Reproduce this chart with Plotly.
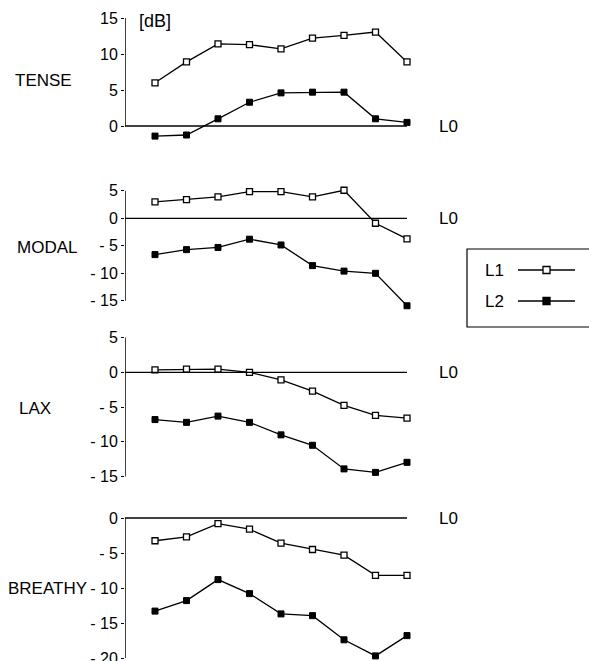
import plotly.graph_objects as go

# ---------------- data ----------------
x_idx = [1, 2, 3, 4, 5, 6, 7, 8, 9]
panel_names = ["TENSE", "MODAL", "LAX", "BREATHY"]

tense_l1 = [6.0, 8.9, 11.4, 11.3, 10.7, 12.2, 12.6, 13.05, 8.9]
tense_l2 = [-1.4, -1.25, 1.0, 3.3, 4.6, 4.7, 4.7, 1.0, 0.5]

modal_l1 = [3.0, 3.4, 3.9, 4.85, 4.85, 3.9, 5.1, -0.9, -3.75]
modal_l2 = [-6.6, -5.7, -5.3, -3.8, -4.85, -8.6, -9.6, -10.0, -15.9]

lax_l1 = [0.35, 0.45, 0.45, 0.0, -1.1, -2.7, -4.75, -6.2, -6.6]
lax_l2 = [-6.8, -7.2, -6.3, -7.2, -9.0, -10.5, -13.9, -14.4, -12.95]

breathy_l1 = [-3.25, -2.7, -0.8, -1.6, -3.6, -4.5, -5.3, -8.2, -8.2]
breathy_l2 = [-13.3, -11.8, -8.8, -10.8, -13.7, -13.95, -17.4, -19.7, -16.8]

tense_ticks = [0, 5, 10, 15]
modal_ticks = [5, 0, -5, -10, -15]
lax_ticks = [5, 0, -5, -10, -15]
breathy_ticks = [0, -5, -10, -15, -20]

series_l1 = [tense_l1, modal_l1, lax_l1, breathy_l1]
series_l2 = [tense_l2, modal_l2, lax_l2, breathy_l2]
ticks_all = [tense_ticks, modal_ticks, lax_ticks, breathy_ticks]

# ---------------- layout constants (pixels) ----------------
W, H = 589, 661
AX_PX = 125.0
X1_PX = 155.0
DX_PX = 31.5
x_lo = 1 - (X1_PX - AX_PX) / DX_PX
x_hi = 9.6
x_dom = [AX_PX / W, (X1_PX + (x_hi - 1) * DX_PX) / W]

# zero-pixel, pixels per dB, y range
panel_geom = [
    (126.0, 7.2, [-2.5, 16.0]),
    (218.3, 5.5, [-17.0, 6.5]),
    (372.3, 6.95, [-16.0, 6.5]),
    (518.0, 7.0, [-20.4, 1.5]),
]
name_pos = [(13, 81), (15, 247), (17, 408), (6, 588)]

FONT = "Liberation Sans, Arial, Helvetica, sans-serif"
FS = 17
TFS = 16

def tick_text(v):
    return f"- {abs(v)}" if v < 0 else str(v)

fig = go.Figure()
layout = dict(
    width=W, height=H, margin=dict(l=0, r=0, t=0, b=0, autoexpand=False),
    paper_bgcolor="white", plot_bgcolor="white", showlegend=False,
    font=dict(family=FONT, size=FS, color="black"),
)
shapes = []
annotations = []

for i in range(4):
    n = i + 1
    xa = "x" if n == 1 else f"x{n}"
    ya = "y" if n == 1 else f"y{n}"
    zero_px, ppd, yr = panel_geom[i]
    top_px = zero_px - yr[1] * ppd
    bot_px = zero_px - yr[0] * ppd
    y_dom = [max(0.0, 1 - bot_px / H), min(1.0, 1 - top_px / H)]
    ticks = ticks_all[i]

    layout[f"xaxis{n}" if n > 1 else "xaxis"] = dict(
        domain=x_dom, range=[x_lo, x_hi], anchor=ya, automargin=False,
        showgrid=False, zeroline=False, showline=False,
        showticklabels=False, ticks="", fixedrange=True,
    )
    layout[f"yaxis{n}" if n > 1 else "yaxis"] = dict(
        domain=y_dom, range=yr, anchor=xa, automargin=False,
        showgrid=False, zeroline=False, showline=False,
        tickvals=ticks, ticktext=[tick_text(v) for v in ticks],
        ticks="outside", ticklen=3, tickwidth=1.2, tickcolor="black",
        tickfont=dict(family=FONT, size=TFS, color="black"),
        ticklabeloverflow="allow",
        fixedrange=True,
    )

    # y-axis line spanning the labelled ticks
    shapes.append(dict(type="line", xref=xa, yref=ya,
                       x0=x_lo, x1=x_lo, y0=min(ticks), y1=max(ticks),
                       line=dict(color="black", width=1.5)))
    # L0 reference line
    shapes.append(dict(type="line", xref=xa, yref=ya,
                       x0=x_lo, x1=x_idx[-1], y0=0, y1=0,
                       line=dict(color="black", width=1.3)))

    fig.add_trace(go.Scatter(
        x=x_idx, y=series_l1[i], xaxis=xa, yaxis=ya, name="L1",
        mode="lines+markers", cliponaxis=False,
        line=dict(color="black", width=1.3),
        marker=dict(symbol="square", size=6, color="white",
                    line=dict(color="black", width=1.3)),
    ))
    fig.add_trace(go.Scatter(
        x=x_idx, y=series_l2[i], xaxis=xa, yaxis=ya, name="L2",
        mode="lines+markers", cliponaxis=False,
        line=dict(color="black", width=1.3),
        marker=dict(symbol="square", size=6, color="black",
                    line=dict(color="black", width=1)),
    ))

    px_, py_ = name_pos[i]
    annotations.append(dict(text=panel_names[i], xref="paper", yref="paper",
                            x=px_ / W, y=1 - py_ / H, xanchor="left", yanchor="middle",
                            showarrow=False, font=dict(family=FONT, size=FS, color="black")))
    annotations.append(dict(text="L0", xref="paper", yref=ya,
                            x=437 / W, y=0, xanchor="left", yanchor="middle",
                            showarrow=False, font=dict(family=FONT, size=FS, color="black")))

annotations.append(dict(text="[dB]", xref="paper", yref="paper",
                        x=137 / W, y=1 - 21 / H, xanchor="left", yanchor="middle",
                        showarrow=False, font=dict(family=FONT, size=18, color="black")))

# ---------------- manual legend ----------------
shapes.append(dict(type="rect", xref="paper", yref="paper",
                   x0=467 / W, x1=610 / W, y0=1 - 327 / H, y1=1 - 249 / H,
                   line=dict(color="black", width=1.2), fillcolor="rgba(0,0,0,0)"))
legend_rows = [("L1", 270, "white"), ("L2", 301, "black")]
leg_x = [0, 0.5, 1]
layout["xaxis5"] = dict(domain=[518 / W, 575 / W], range=[0, 1], anchor="y5",
                        visible=False, fixedrange=True, automargin=False)
layout["yaxis5"] = dict(domain=[1 - 316.5 / H, 1 - 254.5 / H], range=[-0.5, 1.5],
                        anchor="x5", visible=False, fixedrange=True, automargin=False)
for k, (lbl, ypx, fill) in enumerate(legend_rows):
    yv = 1 - k
    fig.add_trace(go.Scatter(x=[leg_x[0], leg_x[2]], y=[yv, yv], xaxis="x5", yaxis="y5",
                             mode="lines", line=dict(color="black", width=1.3),
                             hoverinfo="skip", cliponaxis=False))
    fig.add_trace(go.Scatter(x=[leg_x[1]], y=[yv], xaxis="x5", yaxis="y5",
                             mode="markers", cliponaxis=False, hoverinfo="skip",
                             marker=dict(symbol="square", size=7, color=fill,
                                         line=dict(color="black", width=1.3))))
    annotations.append(dict(text=lbl, xref="paper", yref="paper",
                            x=483 / W, y=1 - ypx / H, xanchor="left", yanchor="middle",
                            showarrow=False, font=dict(family=FONT, size=FS, color="black")))

layout["shapes"] = shapes
layout["annotations"] = annotations
fig.update_layout(**layout)
fig.write_html("out.html")
